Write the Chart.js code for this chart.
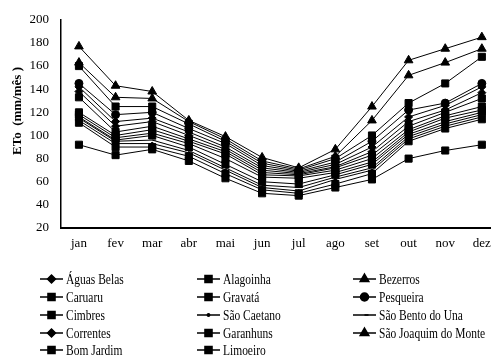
<!DOCTYPE html>
<html>
<head>
<meta charset="utf-8">
<script src="https://cdn.jsdelivr.net/npm/chart.js@4.4.1/dist/chart.umd.min.js"></script>
<style>
  html, body { margin: 0; padding: 0; background: #fff; }
  #wrap { width: 499px; height: 358px; }
</style>
</head>
<body>
<div id="wrap"><canvas id="etoChart" width="499" height="358"></canvas></div>
<script>
const months = ['jan', 'fev', 'mar', 'abr', 'mai', 'jun', 'jul', 'ago', 'set', 'out', 'nov', 'dez'];

// monthly ETo (mm/mês) per station
const aguasBelas   = [142, 112, 115, 103, 90, 72, 68, 75, 90, 116, 126, 142];
const alagoinha    = [160, 125, 125, 110, 95, 76, 70, 80, 100, 128, 145, 168];
const bezerros     = [163, 133, 132, 112, 97, 78, 71, 82, 113, 152, 163, 175];
const caruaru      = [133, 103, 108, 97, 86, 68, 66, 72, 83, 108, 120, 132];
const gravata      = [120, 100, 105, 95, 84, 66, 65, 70, 80, 105, 117, 125];
const pesqueira    = [145, 118, 120, 106, 93, 74, 69, 77, 95, 122, 128, 145];
const cimbres      = [116, 96, 100, 90, 75, 60, 58, 66, 75, 101, 112, 120];
const saoCaetano   = [113, 93, 93, 85, 70, 55, 52, 62, 70, 97, 108, 116];
const saoBento     = [115, 95, 96, 87, 72, 57, 55, 64, 72, 99, 110, 118];
const correntes    = [138, 108, 112, 100, 88, 70, 67, 73, 86, 112, 122, 137];
const garanhuns    = [118, 98, 102, 93, 80, 64, 63, 68, 77, 103, 115, 122];
const saoJoaquim   = [177, 143, 138, 113, 99, 81, 72, 88, 125, 165, 175, 185];
const bomJardim    = [111, 90, 90, 82, 67, 53, 50, 58, 67, 95, 106, 114];
const limoeiro     = [92, 83, 88, 78, 63, 50, 48, 55, 62, 80, 87, 92];

const yTicks = [20, 40, 60, 80, 100, 120, 140, 160, 180, 200];

const serif = '"Liberation Serif", "Times New Roman", serif';

function series(label, values, pointStyle, radius) {
    return {
        label, pointStyle,
        data: values.map((v, i) => ({ x: i, y: v })),
        pointRadius: radius,
        pointHoverRadius: radius,
        borderColor: '#000',
        backgroundColor: '#000',
        pointBackgroundColor: '#000',
        pointBorderColor: '#000',
        pointBorderWidth: 1,
        borderWidth: 1,
        tension: 0,
        fill: false
    };
}

const datasets = [
    series('Águas Belas', aguasBelas, 'rectRot', 4),
    series('Alagoinha', alagoinha, 'rect', 5),
    series('Bezerros', bezerros, 'triangle', 5),
    series('Caruaru', caruaru, 'rect', 5),
    series('Gravatá', gravata, 'rect', 5),
    series('Pesqueira', pesqueira, 'circle', 4),
    series('Cimbres', cimbres, 'rect', 5),
    series('São Caetano', saoCaetano, 'circle', 1.2),
    series('São Bento do Una', saoBento, 'dash', 4),
    series('Correntes', correntes, 'rectRot', 4),
    series('Garanhuns', garanhuns, 'rect', 5),
    series('São Joaquim do Monte', saoJoaquim, 'triangle', 5),
    series('Bom Jardim', bomJardim, 'rect', 5),
    series('Limoeiro', limoeiro, 'rect', 5)
];

// legend in three columns under the axis, line + marker + name
const gridLegend = {
    id: 'gridLegend',
    afterDraw(chart) {
        const ctx = chart.ctx;
        const colX = [40, 197, 353];
        const rowY = [279, 297, 315, 333, 350];
        ctx.save();
        ctx.font = '14px ' + serif;
        ctx.textBaseline = 'middle';
        ctx.fillStyle = '#000';
        chart.data.datasets.forEach((ds, i) => {
            const x = colX[i % 3];
            const y = rowY[Math.floor(i / 3)];
            ctx.strokeStyle = '#000';
            ctx.lineWidth = 1.5;
            ctx.beginPath();
            ctx.moveTo(x, y);
            ctx.lineTo(x + 23, y);
            ctx.stroke();
            Chart.helpers.drawPoint(ctx, {
                pointStyle: ds.pointStyle,
                radius: ds.pointRadius,
                borderWidth: 1
            }, x + 11.5, y);
            ctx.fill();
            // narrow serif face
            ctx.save();
            ctx.translate(x + 26, y + 1);
            ctx.scale(0.82, 1);
            ctx.fillText(ds.label, 0, 0);
            ctx.restore();
        });

        // y axis title
        ctx.save();
        ctx.translate(18, 111);
        ctx.rotate(-Math.PI / 2);
        ctx.font = 'bold 13px ' + serif;
        ctx.textAlign = 'center';
        ctx.fillText('ETo  (mm/mês )', 0, 0);
        ctx.restore();
        ctx.restore();
    }
};

new Chart(document.getElementById('etoChart'), {
    type: 'line',
    data: { labels: months, datasets },
    options: {
        responsive: false,
        animation: false,
        layout: { padding: { top: 12, right: 0, left: 0, bottom: 0 } },
        plugins: {
            legend: { display: false },
            tooltip: { enabled: false }
        },
        scales: {
            x: {
                type: 'linear',
                min: -0.49,
                max: 11.24,
                afterBuildTicks(scale) {
                    scale.ticks = months.map((m, i) => ({ value: i }));
                },
                grid: { display: false, drawTicks: false },
                border: { color: '#000', width: 2 },
                ticks: {
                    color: '#000',
                    padding: 8,
                    autoSkip: false,
                    maxRotation: 0,
                    font: { family: serif, size: 13 },
                    callback: v => months[v]
                },
                afterFit(scale) { scale.height = 130; }
            },
            y: {
                min: 20,
                max: 200,
                afterBuildTicks(scale) {
                    scale.ticks = yTicks.map(v => ({ value: v }));
                },
                grid: { display: false, drawTicks: false },
                border: { color: '#000', width: 1.5 },
                ticks: {
                    color: '#000',
                    padding: 12,
                    font: { family: serif, size: 13 }
                },
                afterFit(scale) { scale.width = 61; }
            }
        }
    },
    plugins: [gridLegend]
});
</script>
</body>
</html>
